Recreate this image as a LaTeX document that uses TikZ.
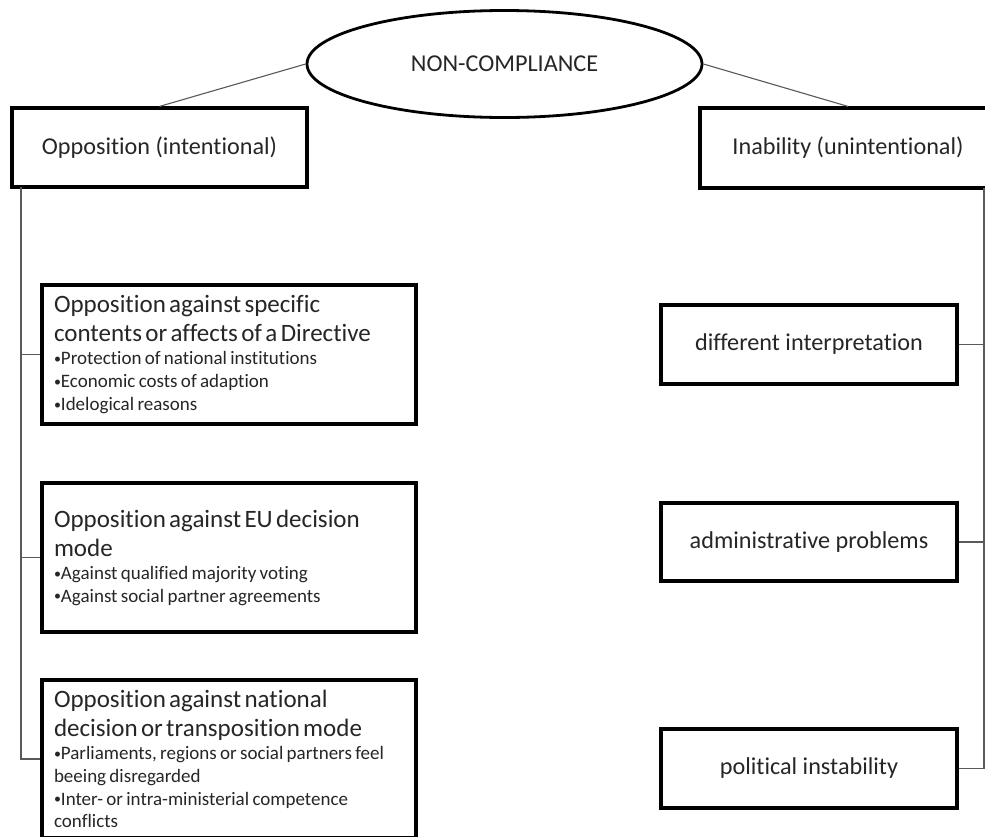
\documentclass[tikz,border=0pt]{standalone}
\usepackage{fontspec}
\setmainfont{Carlito}[Ligatures=NoCommon]
\usetikzlibrary{shapes.geometric}

\newcommand{\headfont}{\fontsize{25}{29.3}\selectfont}
\newcommand{\itemfont}{\fontsize{19}{22.8}\selectfont}
\newcommand{\labelfont}{\fontsize{24.2}{28}\selectfont}
\newcommand{\bul}{{\fontsize{14}{14}\selectfont\raisebox{1.2pt}{•}}}

\tikzset{
  toplabel/.style={draw=black, line width=2.8pt, ellipse, minimum width=395pt,
    minimum height=107pt, inner sep=0pt, font=\labelfont, text=black!85},
  catbox/.style={draw=black, line width=3.2pt, rectangle, minimum width=296pt,
    minimum height=80pt, inner sep=0pt, font=\labelfont, text=black!85},
  causebox/.style={draw=black, line width=3.2pt, rectangle, minimum width=374pt,
    text width=350pt, inner xsep=12pt, inner ysep=2pt, align=left, text=black!85},
  link/.style={draw=black!65, line width=1.1pt}
}

\begin{document}
\begin{tikzpicture}[x=1pt, y=-1pt]
  \useasboundingbox (0,0) rectangle (985,836);
  \clip (0,0) rectangle (985,836);
  \fill[white] (0,0) rectangle (985,836);

  % root and the two kinds of non-compliance
  \node[toplabel] (nc) at (504.5,64) {NON-COMPLIANCE};
  \node[catbox, minimum width=295pt, minimum height=79pt] (opp) at (159.5,147.5) {Opposition (intentional)};
  \node[catbox] (inab) at (848,148) {Inability (unintentional)};

  % intentional causes
  \node[causebox, minimum height=139pt] (b1) at (229,354.5)
    {{\headfont Opposition against specific\\contents or affects of a Directive\par}
     {\itemfont \bul Protection of national institutions\par
     \bul Economic costs of adaption\par
     \bul Idelogical reasons\par}};
  \node[causebox, minimum height=149pt] (b2) at (229,557.5)
    {{\headfont Opposition against EU decision\\mode\par}
     {\itemfont \bul Against qualified majority voting\par
     \bul Against social partner agreements\par}};
  \node[causebox, minimum height=158pt] (b3) at (229,759)
    {{\headfont Opposition against national\\decision or transposition mode\par}
     {\itemfont \bul Parliaments, regions or social partners feel\\beeing disregarded\par
     \bul Inter- or intra-ministerial competence\\conflicts\par}};

  % unintentional causes
  \node[catbox, minimum height=79pt] (di) at (809,344.5) {different interpretation};
  \node[catbox, minimum height=78pt] (ap) at (809,542) {administrative problems};
  \node[catbox, minimum height=79pt] (pi) at (809,768.5) {political instability};

  % branches from the root
  \draw[link] (nc.west) -- (opp.north);
  \draw[link] (nc.east) -- (inab.north);

  % left trunk
  \coordinate (ltrunk) at (21,187);
  \draw[link] (ltrunk) |- (b3.west);
  \draw[link] (b1.west -| ltrunk) -- (b1.west);
  \draw[link] (b2.west -| ltrunk) -- (b2.west);

  % right trunk
  \coordinate (rtrunk) at (984,188);
  \draw[link] (rtrunk) |- (pi.east);
  \draw[link] (di.east) -- (di.east -| rtrunk);
  \draw[link] (ap.east) -- (ap.east -| rtrunk);
\end{tikzpicture}
\end{document}
